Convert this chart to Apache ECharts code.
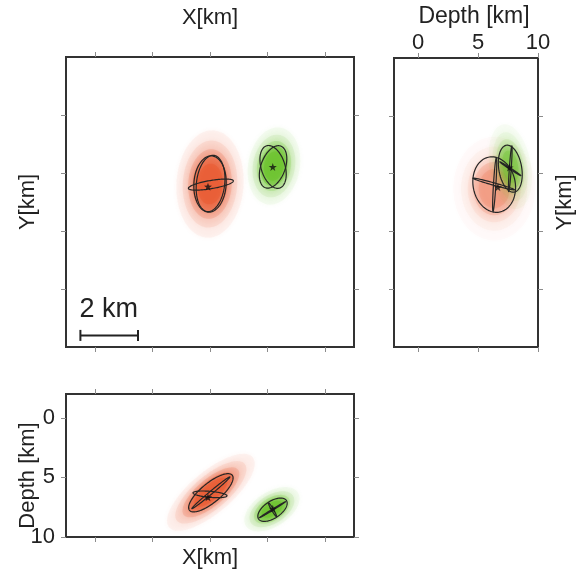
<!DOCTYPE html>
<html>
<head>
<meta charset="utf-8">
<script src="https://cdn.jsdelivr.net/npm/echarts@6/dist/echarts.min.js"></script>
<style>
  html, body { margin: 0; padding: 0; background: #fff; }
  #chart { width: 584px; height: 576px; }
</style>
</head>
<body>
<div id="chart"></div>
<script>
// Two located events: 0 = red cluster, 1 = green cluster.
// Hypocentres in km: X (east), Y (north), depth.
const starX = [-0.07, 2.18];
const starY = [-0.47, 0.21];
const starD = [6.66, 7.63];

// Error ellipses per view: [centre a, centre b, semi-axis u (a, b), conjugate semi-axis v (a, b), event]
const xyEllipses = [
  [0.00, -0.38, 0.05, 0.97, 0.56, -0.02, 0],
  [0.02, -0.36, 0.10, 0.97, 0.49, -0.03, 0],
  [0.03, -0.40, 0.78, 0.13, 0.02, -0.14, 0],
  [2.19, 0.21, 0.26, 0.72, 0.40, -0.13, 1],
  [2.19, 0.21, -0.22, 0.73, 0.40, 0.11, 1]
];
const dyEllipses = [
  [6.35, -0.38, 1.78, -0.14, 0.07, 0.95, 0],
  [6.31, -0.36, 1.73, -0.20, 0.03, 0.04, 0],
  [6.39, -0.38, 0.14, 0.93, 0.10, -0.01, 0],
  [7.69, 0.17, -0.33, 0.81, 0.94, 0.07, 1],
  [7.69, 0.17, 0.88, -0.24, 0.03, 0.02, 1],
  [7.69, 0.17, 0.13, 0.79, 0.08, 0.00, 1]
];
const xdEllipses = [
  [0.03, 6.29, 0.74, -1.48, 0.22, 0.62, 0],
  [0.00, 6.42, 0.59, 0.13, 0.02, -0.25, 0],
  [0.03, 6.29, 0.66, -1.33, 0.03, 0.10, 0],
  [2.17, 7.71, 0.49, -0.75, 0.14, 0.63, 1],
  [2.17, 7.71, 0.45, -0.67, 0.01, 0.04, 1],
  [2.17, 7.71, 0.14, 0.58, 0.03, -0.04, 1]
];

// Spread of the location samples per view (same layout as the ellipses)
const xyClouds = [
  [0.00, -0.38, 0.05, 1.00, 0.63, -0.02, 0],
  [2.22, 0.24, 0.07, 0.72, 0.49, 0.00, 1]
];
const dyClouds = [
  [6.35, -0.52, 1.84, 0.00, 0.00, 0.97, 0],
  [7.69, 0.24, -0.33, 0.79, 0.92, 0.07, 1]
];
const xdClouds = [
  [0.03, 6.25, 0.78, -1.60, 0.26, 0.70, 0],
  [2.15, 7.67, 0.49, -0.75, 0.17, 0.67, 1]
];

// Axis ranges and ticks
const xRange = [-5, 5];
const yRange = [-6, 4];
const depthRange = [-2, 10];
const xTicks = [-4, -2, 0, 2, 4];
const yTicks = [-4, -2, 0, 2];
const depthTicks = [0, 5, 10];
const depthLabels = [0, 5, 10];

// Scale bar: start point (X, Y) and length in km
const scaleBarStart = [-4.5, -5.6];
const scaleBarKm = 2;
const scaleBarText = '2 km';

const eventColors = ['#e9552a', '#66c126'];
const FONT = "'Liberation Sans', Arial, Helvetica, sans-serif";
const TEXT = '#222';

const chart = echarts.init(document.getElementById('chart'), null, { renderer: 'canvas' });

function ellipsePts(api, cx, cy, ux, uy, vx, vy, s) {
  const pts = [];
  const n = 120;
  for (let k = 0; k < n; k++) {
    const t = (k / n) * Math.PI * 2;
    const c = Math.cos(t), sn = Math.sin(t);
    pts.push(api.coord([cx + s * (ux * c + vx * sn), cy + s * (uy * c + vy * sn)]));
  }
  return pts;
}

const layerScale = [1.85, 1.5, 1.2, 0.95, 0.7];
const layerAlpha = [0.05, 0.09, 0.17, 0.4, 0.4];

function cloudSeries(grid, data, strength) {
  return {
    type: 'custom',
    xAxisIndex: grid * 2, yAxisIndex: grid * 2,
    z: 1, silent: true, animation: false,
    data: data,
    encode: { x: 0, y: 1 },
    renderItem: function (params, api) {
      const v = [0, 1, 2, 3, 4, 5, 6].map(i => api.value(i));
      const col = eventColors[v[6]];
      const k = strength[v[6]];
      const children = layerScale.map((s, i) => ({
        type: 'polygon',
        shape: { points: ellipsePts(api, v[0], v[1], v[2], v[3], v[4], v[5], s) },
        style: { fill: col, opacity: layerAlpha[i] * k, shadowBlur: 5, shadowColor: col }
      }));
      return { type: 'group', children: children };
    }
  };
}

function ellipseSeries(grid, data) {
  return {
    type: 'custom',
    xAxisIndex: grid * 2, yAxisIndex: grid * 2,
    z: 2, silent: true, animation: false,
    data: data,
    encode: { x: 0, y: 1 },
    renderItem: function (params, api) {
      const v = [0, 1, 2, 3, 4, 5].map(i => api.value(i));
      return {
        type: 'polygon',
        shape: { points: ellipsePts(api, v[0], v[1], v[2], v[3], v[4], v[5], 1) },
        style: { fill: 'none', stroke: '#262626', lineWidth: 1.2 }
      };
    }
  };
}

const starPath = 'path://M0,-10L2.35,-3.24L9.51,-3.09L3.8,1.24L5.88,8.09L0,4L-5.88,8.09L-3.8,1.24L-9.51,-3.09L-2.35,-3.24Z';
function starSeries(grid, xs, ys) {
  return {
    type: 'scatter',
    xAxisIndex: grid * 2, yAxisIndex: grid * 2,
    z: 3, silent: true, animation: false,
    symbol: starPath, symbolSize: 8,
    itemStyle: { color: '#111' },
    data: xs.map((x, i) => [x, ys[i]])
  };
}

function axisCommon(grid, range, ticks, labels, extra) {
  return Object.assign({
    type: 'value',
    gridIndex: grid,
    min: range[0], max: range[1],
    nameMoveOverlap: false,
    axisLine: { show: false, onZero: false },
    splitLine: { show: false },
    axisTick: { show: true, inside: false, length: 5, customValues: ticks, lineStyle: { color: '#8c8c8c', width: 1 } },
    axisLabel: labels ? { show: true, customValues: labels, fontSize: 22, fontFamily: FONT, color: TEXT, margin: 4 } : { show: false },
    nameTextStyle: { fontSize: 22, fontFamily: FONT, color: TEXT }
  }, extra || {});
}

const option = {
  backgroundColor: '#fff',
  animation: false,
  grid: [
    { left: 66, top: 57, width: 288, height: 290, show: true, borderColor: '#333', borderWidth: 2, backgroundColor: 'transparent' },
    { left: 394, top: 57, width: 144, height: 290, show: true, borderColor: '#333', borderWidth: 2, backgroundColor: 'transparent' },
    { left: 66, top: 394, width: 288, height: 143, show: true, borderColor: '#333', borderWidth: 2, backgroundColor: 'transparent' }
  ],
  xAxis: [
    axisCommon(0, xRange, xTicks, null, { position: 'bottom' }),
    axisCommon(0, xRange, xTicks, null, { position: 'top', name: 'X[km]', nameLocation: 'middle', nameGap: 28 }),
    axisCommon(1, depthRange, depthTicks, null, { position: 'bottom' }),
    axisCommon(1, depthRange, depthTicks, depthLabels, {
      position: 'top', name: 'Depth [km]', nameLocation: 'middle', nameGap: 30,
      nameTextStyle: { fontSize: 23, fontFamily: FONT, color: TEXT, padding: [0, 0, 0, 16] }
    }),
    axisCommon(2, xRange, xTicks, null, { position: 'bottom', name: 'X[km]', nameLocation: 'middle', nameGap: 10 }),
    axisCommon(2, xRange, xTicks, null, { position: 'top' })
  ],
  yAxis: [
    axisCommon(0, yRange, yTicks, null, { position: 'left', name: 'Y[km]', nameLocation: 'middle', nameRotate: 90, nameGap: 27 }),
    axisCommon(0, yRange, yTicks, null, { position: 'right' }),
    axisCommon(1, yRange, yTicks, null, { position: 'left' }),
    axisCommon(1, yRange, yTicks, null, { position: 'right', name: 'Y[km]', nameLocation: 'middle', nameRotate: 90, nameGap: 16 }),
    axisCommon(2, depthRange, depthTicks, null, {
      position: 'left', inverse: true, name: 'Depth [km]', nameLocation: 'middle', nameRotate: 90, nameGap: 27,
      nameTextStyle: { fontSize: 22, fontFamily: FONT, color: TEXT, padding: [0, 20, 0, 0] },
      axisLabel: { show: true, customValues: depthLabels, fontSize: 22, fontFamily: FONT, color: TEXT, margin: 11 }
    }),
    axisCommon(2, depthRange, depthTicks, null, { position: 'right', inverse: true })
  ],
  series: [
    cloudSeries(0, xyClouds, [1, 1]),
    cloudSeries(1, dyClouds, [0.35, 0.6]),
    cloudSeries(2, xdClouds, [1, 1]),
    ellipseSeries(0, xyEllipses),
    ellipseSeries(1, dyEllipses),
    ellipseSeries(2, xdEllipses),
    starSeries(0, starX, starY),
    starSeries(1, starD, starY),
    starSeries(2, starX, starD),
    {
      type: 'custom',
      xAxisIndex: 0, yAxisIndex: 0,
      z: 4, silent: true, animation: false,
      data: [[scaleBarStart[0], scaleBarStart[1], scaleBarKm]],
      encode: { x: 0, y: 1 },
      renderItem: function (params, api) {
        const x0 = api.value(0), y0 = api.value(1), len = api.value(2);
        const p0 = api.coord([x0, y0]);
        const p1 = api.coord([x0 + len, y0]);
        const cap = 5.5;
        const ls = { stroke: '#222', lineWidth: 2 };
        return {
          type: 'group',
          children: [
            { type: 'line', shape: { x1: p0[0], y1: p0[1], x2: p1[0], y2: p1[1] }, style: ls },
            { type: 'line', shape: { x1: p0[0], y1: p0[1] - cap, x2: p0[0], y2: p0[1] + cap }, style: ls },
            { type: 'line', shape: { x1: p1[0], y1: p1[1] - cap, x2: p1[0], y2: p1[1] + cap }, style: ls },
            { type: 'text', x: p0[0] - 1, y: p0[1] - 12, style: { text: scaleBarText, fill: TEXT, font: '27px ' + FONT, textAlign: 'left', textVerticalAlign: 'bottom' } }
          ]
        };
      }
    }
  ]
};

chart.setOption(option);
</script>
</body>
</html>
